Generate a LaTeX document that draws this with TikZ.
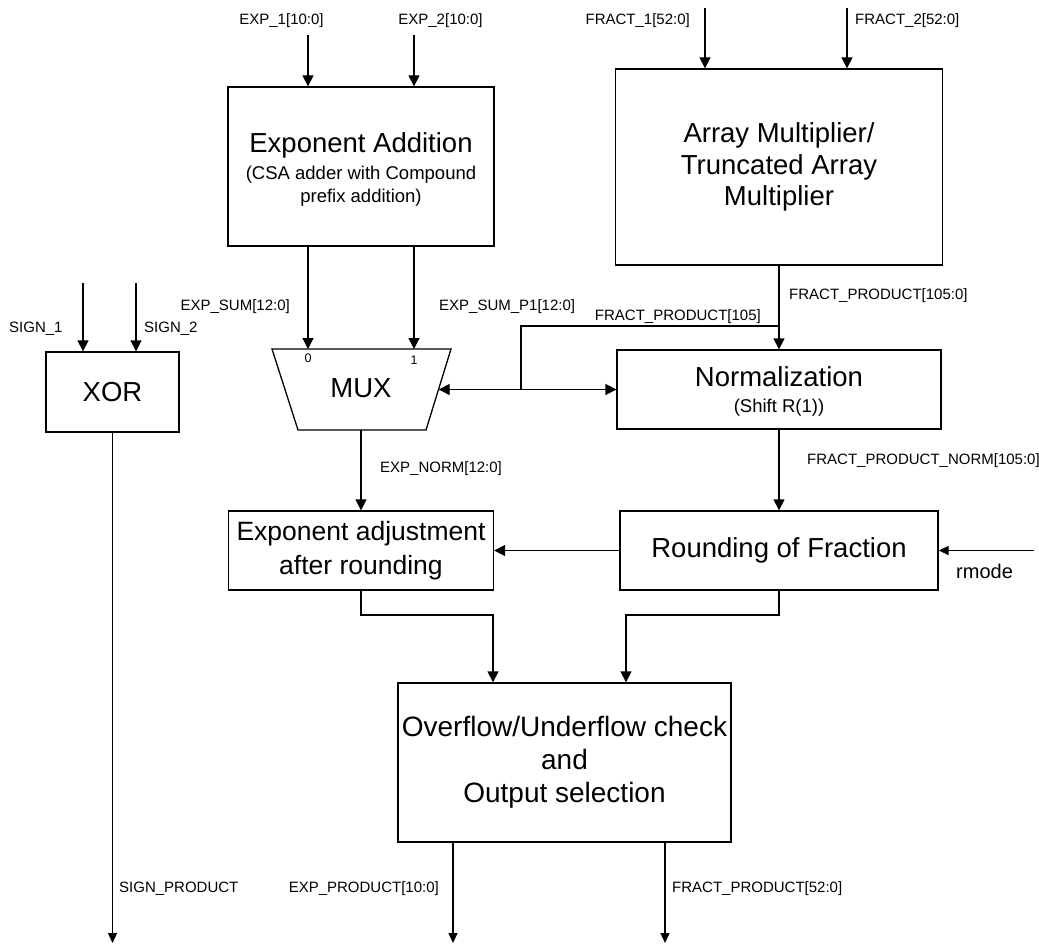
\documentclass[tikz,border=0pt]{standalone}
\usepackage{fontspec}
\setmainfont{Liberation Sans}
\usetikzlibrary{arrows.meta}
\begin{document}
\begin{tikzpicture}[x=1pt,y=-1pt,
  wire/.style={line width=1.3pt},
  arr/.style={wire,-{Triangle[width=11pt,length=11pt]}},
  sarr/.style={wire,-{Triangle[width=9pt,length=10pt]}},
  blk/.style={draw,line width=1.3pt,inner sep=0pt,align=center},
  big/.style={font=\fontsize{27.5}{31.5}\selectfont,align=center,inner sep=0pt},
  sub/.style={font=\fontsize{18.5}{23.5}\selectfont,inner sep=0pt},
  lbl/.style={font=\fontsize{15}{18}\selectfont,inner sep=0pt},
  tiny/.style={font=\fontsize{12.5}{15}\selectfont,inner sep=0pt},
]
\useasboundingbox (0,0) rectangle (1039,947);

% ---- blocks ----
\node[blk,minimum width=266pt,minimum height=159pt] (expadd) at (361,166.5) {};
\node[big,anchor=base] (expaddT) at (361,152.7) {Exponent Addition};
\node[sub,anchor=base] (expaddS1) at (361,179.3) {(CSA adder with Compound};
\node[sub,anchor=base] (expaddS2) at (361,202.7) {prefix addition)};

\node[blk,big,minimum width=327pt,minimum height=196pt] (arrmul) at (779,167)
  {Array Multiplier/\\Truncated Array\\Multiplier};

\node[blk,big,minimum width=133pt,minimum height=80pt] (xor) at (112.5,392) {XOR};

\node[blk,minimum width=324pt,minimum height=79pt] (norm) at (779,389.5) {};
\node[big,anchor=base] (normT) at (779,386.7) {Normalization};
\node[sub,anchor=base] (normS) at (779,412.5) {(Shift R(1))};

\node[blk,big,minimum width=318pt,minimum height=79pt] (round) at (779,550.5)
  {Rounding of Fraction};

\node[blk,font=\fontsize{26.5}{34}\selectfont,minimum width=265pt,minimum height=79pt]
  (expadj) at (361,550.5) {Exponent adjustment\\after rounding};

\node[blk,font=\fontsize{28}{33}\selectfont,minimum width=333pt,minimum height=159pt]
  (ovf) at (564.5,762.5) {Overflow/Underflow check\\and\\Output selection};

% ---- multiplexer ----
\draw[line width=1.3pt] (272,349) -- (451,349) -- (426,430) -- (298,430) -- cycle;
\node[big] (mux) at (361,388) {MUX};
\coordinate (mux0) at (308,349);
\coordinate (mux1) at (414,349);
\coordinate (muxout) at (361,430);
\coordinate (muxR) at (438.7,389.5);
\node[tiny,anchor=base] (mux0T) at (308,362) {0};
\node[tiny,anchor=base] (mux1T) at (414,364) {1};

% ---- inputs ----
\coordinate (e1) at (308,35);
\coordinate (e2) at (414,35);
\coordinate (f1) at (705,8);
\coordinate (f2) at (847,8);
\coordinate (s1) at (83,283);
\coordinate (s2) at (136,283);
\coordinate (rm) at (1034,550.5);
\draw[arr] (e1) -- (e1 |- expadd.north);
\draw[arr] (e2) -- (e2 |- expadd.north);
\draw[arr] (f1) -- (f1 |- arrmul.north);
\draw[arr] (f2) -- (f2 |- arrmul.north);
\draw[arr] (s1) -- (s1 |- xor.north);
\draw[arr] (s2) -- (s2 |- xor.north);
\draw[sarr] (rm) -- (round.east);

% ---- internal connections ----
\draw[arr] (mux0 |- expadd.south) -- (mux0);
\draw[arr] (mux1 |- expadd.south) -- (mux1);
\draw[arr] (arrmul.south) -- (norm.north);
\coordinate (tap) at (779,326);
\coordinate (jn) at (521,389.5);
\draw[wire] (tap) -| (jn);
\draw[arr] (jn) -- (muxR);
\draw[arr] (jn) -- (norm.west);
\draw[arr] (muxout) -- (expadj.north);
\draw[arr] (norm.south) -- (round.north);
\draw[arr] (round.west) -- (expadj.east);
\coordinate (j1) at (493,615);
\coordinate (j2) at (626,615);
\draw[arr] (expadj.south) |- (j1) -- (j1 |- ovf.north);
\draw[arr] (round.south) |- (j2) -- (j2 |- ovf.north);

% ---- outputs ----
\coordinate (so) at (112.5,943);
\coordinate (eo) at (453,943);
\coordinate (fo) at (665,943);
\draw[sarr] (xor.south) -- (so);
\draw[sarr] (eo |- ovf.south) -- (eo);
\draw[sarr] (fo |- ovf.south) -- (fo);

% ---- signal names ----
\node[lbl,anchor=base] (lE1) at (281.5,24.5) {EXP\_1[10:0]};
\node[lbl,anchor=base] (lE2) at (440.5,24.5) {EXP\_2[10:0]};
\node[lbl,anchor=base east] (lF1) at (690,24.5) {FRACT\_1[52:0]};
\node[lbl,anchor=base west] (lF2) at (855,24.5) {FRACT\_2[52:0]};
\node[lbl,anchor=base east] (lES) at (290,310.5) {EXP\_SUM[12:0]};
\node[lbl,anchor=base west] (lESP) at (439,310.5) {EXP\_SUM\_P1[12:0]};
\node[lbl,anchor=base east] (lFP105) at (761,320.5) {FRACT\_PRODUCT[105]};
\node[lbl,anchor=base west] (lFP) at (789,299.5) {FRACT\_PRODUCT[105:0]};
\node[lbl,anchor=base west] (lS1) at (9,332.5) {SIGN\_1};
\node[lbl,anchor=base west] (lS2) at (144,332.5) {SIGN\_2};
\node[lbl,anchor=base west] (lEN) at (380,472.5) {EXP\_NORM[12:0]};
\node[lbl,anchor=base west] (lFPN) at (807,464.5) {FRACT\_PRODUCT\_NORM[105:0]};
\node[font=\fontsize{20}{24}\selectfont,inner sep=0pt,anchor=base west] (lRM) at (956,578) {rmode};
\node[lbl,anchor=base west] (lSP) at (119,892.5) {SIGN\_PRODUCT};
\node[lbl,anchor=base east] (lEP) at (439,892.5) {EXP\_PRODUCT[10:0]};
\node[lbl,anchor=base west] (lFPO) at (672,892.5) {FRACT\_PRODUCT[52:0]};
\end{tikzpicture}
\end{document}
